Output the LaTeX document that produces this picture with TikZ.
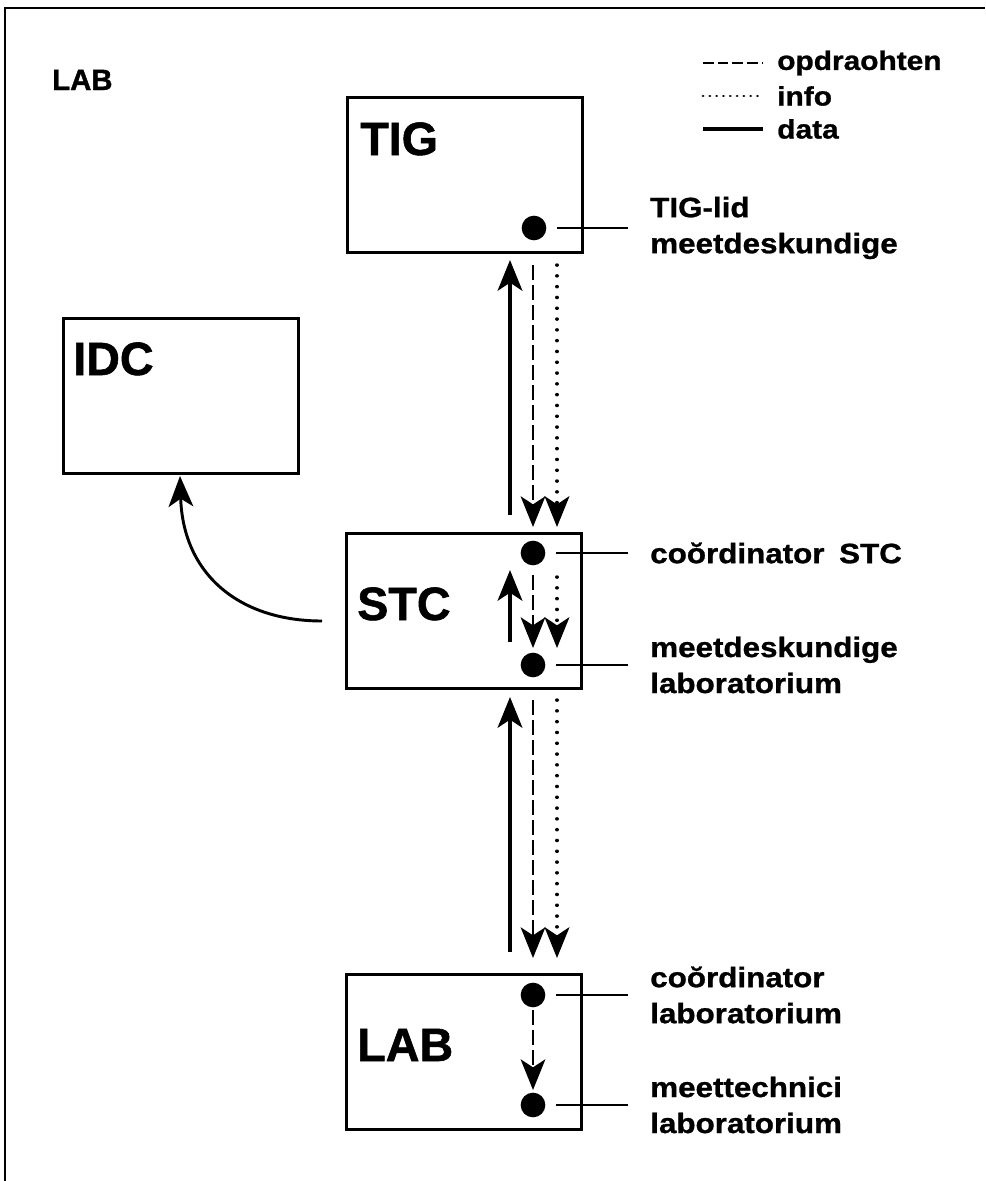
\documentclass[tikz,border=0pt]{standalone}
\usepackage{fontspec}
\setmainfont{Liberation Sans}[BoldFeatures={FakeBold=1.2}]
\newfontfamily\widefont{Liberation Sans}[FakeStretch=1.12, BoldFeatures={FakeBold=1}]
\usetikzlibrary{arrows.meta}

\begin{document}
\begin{tikzpicture}[x=0.75pt, y=-0.75pt,
  every node/.style={inner sep=0pt, font=\bfseries},
  box/.style={draw, line width=2.2pt, anchor=north west,
              minimum width=176pt, minimum height=116.5pt},
  boxtitle/.style={anchor=base west, font=\bfseries\fontsize{35}{35}\selectfont},
  member/.style={circle, fill=black, minimum size=18.5pt},
  tie/.style={line width=1.5pt},
  role/.style={anchor=west, align=left, font=\widefont\bfseries\fontsize{21}{27}\selectfont},
  legendtext/.style={anchor=west, font=\widefont\bfseries\fontsize{20}{20}\selectfont},
  tip/.style={-{Stealth[length=23pt, width=18.5pt, inset=6pt]}},
  datal/.style={line width=3pt},
  orderl/.style={line width=1.8pt, dash pattern=on 11pt off 4pt},
  infol/.style={line width=2.6pt, line cap=round, dash pattern=on 0.1pt off 8pt}
]
\useasboundingbox (0,0) rectangle (985,1181);

% outer frame (top and left edge only)
\coordinate (frameTR) at (985,8);
\coordinate (frameTL) at (5,8);
\coordinate (frameBL) at (5,1181);
\draw[line width=2.2pt] (frameTR) -- (frameTL) -- (frameBL);

% heading
\node[anchor=base west, font=\bfseries\fontsize{22}{22}\selectfont] (head) at (52,90) {LAB};

% legend
\coordinate (lg1a) at (703,63);  \coordinate (lg1b) at (763,63);
\coordinate (lg2a) at (703,96);  \coordinate (lg2b) at (763,96);
\coordinate (lg3a) at (703,129); \coordinate (lg3b) at (763,129);
\draw[line width=1.6pt, dash pattern=on 8pt off 3pt] (lg1a) -- (lg1b);
\draw[line width=2.2pt, line cap=round, dash pattern=on 0.1pt off 5pt] (lg2a) -- (lg2b);
\draw[line width=2.4pt] (lg3a) -- (lg3b);
\node[legendtext] (lgt1) at (777,63) {opdraohten};
\node[legendtext] (lgt2) at (777,96) {info};
\node[legendtext] (lgt3) at (777,129) {data};

% boxes
\node[box] (tig) at (346,96) {};
\node[box] (idc) at (62,317) {};
\node[box] (stc) at (345,532) {};
\node[box] (lab) at (345,973) {};

\node[boxtitle] (tigt) at (360,155) {TIG};
\node[boxtitle] (idct) at (73,375) {IDC};
\node[boxtitle] (stct) at (357,620) {STC};
\node[boxtitle] (labt) at (357,1061) {LAB};

% members
\node[member] (m1) at (534,228) {};
\node[member] (m2) at (533,553) {};
\node[member] (m3) at (533,665) {};
\node[member] (m4) at (533,995) {};
\node[member] (m5) at (533,1105) {};

% role labels
\node[role] (r1) at (650,228) {TIG-lid\\meetdeskundige};
\node[role] (r2) at (650,553) {coŏrdinator\hspace{11pt}STC};
\node[role] (r3) at (650,665) {meetdeskundige\\laboratorium};
\node[role] (r4) at (650,995) {coŏrdinator\\laboratorium};
\node[role] (r5) at (650,1105) {meettechnici\\laboratorium};

\foreach \m/\r in {m1/r1, m2/r2, m3/r3, m4/r4, m5/r5}
  \draw[tie] ([xshift=8pt]\m.east) -- ([xshift=-16.5pt]\r.west);

% TIG <-> STC
\coordinate (ts1) at (510,515);  \coordinate (ts2) at (510,260);
\coordinate (ts3) at (533,265);  \coordinate (ts4) at (533,527);
\coordinate (ts5) at (557,265);  \coordinate (ts6) at (557,527);
\draw[datal, tip] (ts1) -- (ts2);
\draw[orderl, tip] (ts3) -- (ts4);
\draw[infol, tip] (ts5) -- (ts6);

% inside STC
\coordinate (ss1) at (510,642);  \coordinate (ss2) at (510,570);
\coordinate (ss3) at (533,575);  \coordinate (ss4) at (533,648);
\coordinate (ss5) at (557,577);  \coordinate (ss6) at (557,648);
\draw[datal, tip] (ss1) -- (ss2);
\draw[orderl, tip] (ss3) -- (ss4);
\draw[infol, tip] (ss5) -- (ss6);

% STC <-> LAB
\coordinate (sl1) at (510,952);  \coordinate (sl2) at (510,697);
\coordinate (sl3) at (533,700);  \coordinate (sl4) at (533,958);
\coordinate (sl5) at (557,700);  \coordinate (sl6) at (557,958);
\draw[datal, tip] (sl1) -- (sl2);
\draw[orderl, tip] (sl3) -- (sl4);
\draw[infol, tip] (sl5) -- (sl6);

% inside LAB
\coordinate (ll1) at (533,1010);  \coordinate (ll2) at (533,1090);
\draw[orderl, tip] (ll1) -- (ll2);

% STC -> IDC
\coordinate (si1) at (322,621);  \coordinate (si2) at (180,476);
\draw[line width=2.2pt, tip] (si1) .. controls (240,621) and (183,575) .. (si2);
\end{tikzpicture}
\end{document}
